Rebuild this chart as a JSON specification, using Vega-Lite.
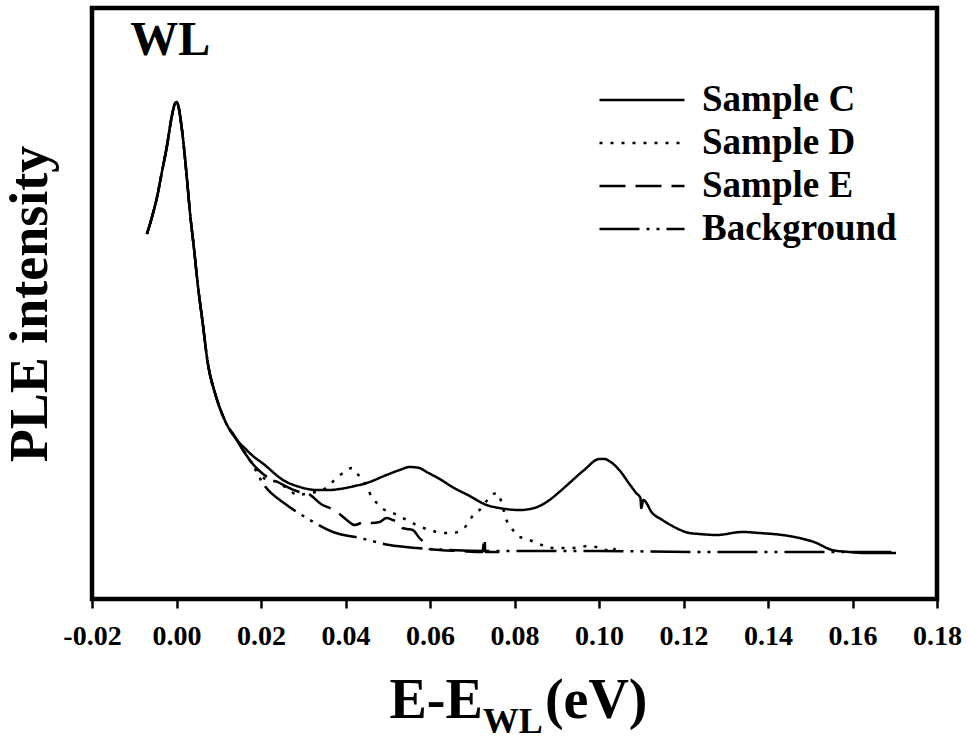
{
  "$schema": "https://vega.github.io/schema/vega-lite/v6.json",
  "width": 845,
  "height": 591,
  "autosize": {"type": "none"},
  "padding": {"left": 92, "top": 8, "right": 31, "bottom": 141},
  "background": "white",
  "config": {"view": {"stroke": "black", "strokeWidth": 4.5}, "font": "Liberation Serif"},
  "datasets": {
    "curves": [
      {"s": "Sample C", "E": -0.0070, "I": 365}, {"s": "Sample C", "E": -0.0058, "I": 382}, {"s": "Sample C", "E": -0.0046, "I": 402}, {"s": "Sample C", "E": -0.0035, "I": 426}, {"s": "Sample C", "E": -0.0023, "I": 452}, {"s": "Sample C", "E": -0.0011, "I": 483}, {"s": "Sample C", "E": -0.0004, "I": 495}, {"s": "Sample C", "E": 0.0000, "I": 497}, {"s": "Sample C", "E": 0.0003, "I": 495}, {"s": "Sample C", "E": 0.0013, "I": 469}, {"s": "Sample C", "E": 0.0025, "I": 419}, {"s": "Sample C", "E": 0.0032, "I": 386}, {"s": "Sample C", "E": 0.0041, "I": 352}, {"s": "Sample C", "E": 0.0051, "I": 312}, {"s": "Sample C", "E": 0.0062, "I": 276}, {"s": "Sample C", "E": 0.0074, "I": 236}, {"s": "Sample C", "E": 0.0091, "I": 206}, {"s": "Sample C", "E": 0.0114, "I": 179}, {"s": "Sample C", "E": 0.0143, "I": 159},
      {"s": "Sample C", "E": 0.0166, "I": 149}, {"s": "Sample C", "E": 0.0173, "I": 146}, {"s": "Sample C", "E": 0.0209, "I": 134}, {"s": "Sample C", "E": 0.0252, "I": 119}, {"s": "Sample C", "E": 0.0292, "I": 112}, {"s": "Sample C", "E": 0.0332, "I": 109}, {"s": "Sample C", "E": 0.0363, "I": 109}, {"s": "Sample C", "E": 0.0386, "I": 110}, {"s": "Sample C", "E": 0.0422, "I": 113}, {"s": "Sample C", "E": 0.0450, "I": 116}, {"s": "Sample C", "E": 0.0497, "I": 124}, {"s": "Sample C", "E": 0.0528, "I": 129}, {"s": "Sample C", "E": 0.0552, "I": 132}, {"s": "Sample C", "E": 0.0575, "I": 131}, {"s": "Sample C", "E": 0.0592, "I": 127}, {"s": "Sample C", "E": 0.0623, "I": 120}, {"s": "Sample C", "E": 0.0653, "I": 112}, {"s": "Sample C", "E": 0.0694, "I": 103}, {"s": "Sample C", "E": 0.0734, "I": 94}, {"s": "Sample C", "E": 0.0764, "I": 91}, {"s": "Sample C", "E": 0.0812, "I": 89}, {"s": "Sample C", "E": 0.0847, "I": 91}, {"s": "Sample C", "E": 0.0876, "I": 97}, {"s": "Sample C", "E": 0.0906, "I": 107}, {"s": "Sample C", "E": 0.0930, "I": 116}, {"s": "Sample C", "E": 0.0965, "I": 129}, {"s": "Sample C", "E": 0.1001, "I": 140}, {"s": "Sample C", "E": 0.1013, "I": 140}, {"s": "Sample C", "E": 0.1024, "I": 138}, {"s": "Sample C", "E": 0.1048, "I": 129}, {"s": "Sample C", "E": 0.1072, "I": 115}, {"s": "Sample C", "E": 0.1088, "I": 106}, {"s": "Sample C", "E": 0.1098, "I": 101}, {"s": "Sample C", "E": 0.1100, "I": 91}, {"s": "Sample C", "E": 0.1105, "I": 99}, {"s": "Sample C", "E": 0.1126, "I": 86}, {"s": "Sample C", "E": 0.1150, "I": 79}, {"s": "Sample C", "E": 0.1178, "I": 72}, {"s": "Sample C", "E": 0.1214, "I": 66}, {"s": "Sample C", "E": 0.1238, "I": 65}, {"s": "Sample C", "E": 0.1278, "I": 64}, {"s": "Sample C", "E": 0.1339, "I": 67}, {"s": "Sample C", "E": 0.1379, "I": 66}, {"s": "Sample C", "E": 0.1434, "I": 64}, {"s": "Sample C", "E": 0.1474, "I": 61}, {"s": "Sample C", "E": 0.1509, "I": 57}, {"s": "Sample C", "E": 0.1552, "I": 49}, {"s": "Sample C", "E": 0.1592, "I": 47}, {"s": "Sample C", "E": 0.1632, "I": 46}, {"s": "Sample C", "E": 0.1663, "I": 46}, {"s": "Sample C", "E": 0.1703, "I": 46},

      {"s": "Sample D", "E": -0.0070, "I": 365}, {"s": "Sample D", "E": -0.0058, "I": 382}, {"s": "Sample D", "E": -0.0046, "I": 402}, {"s": "Sample D", "E": -0.0035, "I": 426}, {"s": "Sample D", "E": -0.0023, "I": 452}, {"s": "Sample D", "E": -0.0011, "I": 483}, {"s": "Sample D", "E": -0.0004, "I": 495}, {"s": "Sample D", "E": 0.0000, "I": 497}, {"s": "Sample D", "E": 0.0003, "I": 495}, {"s": "Sample D", "E": 0.0013, "I": 469}, {"s": "Sample D", "E": 0.0025, "I": 419}, {"s": "Sample D", "E": 0.0032, "I": 386}, {"s": "Sample D", "E": 0.0041, "I": 352}, {"s": "Sample D", "E": 0.0051, "I": 312}, {"s": "Sample D", "E": 0.0062, "I": 276}, {"s": "Sample D", "E": 0.0074, "I": 236}, {"s": "Sample D", "E": 0.0091, "I": 206}, {"s": "Sample D", "E": 0.0114, "I": 179}, {"s": "Sample D", "E": 0.0143, "I": 159},
      {"s": "Sample D", "E": 0.0157, "I": 150}, {"s": "Sample D", "E": 0.0173, "I": 139}, {"s": "Sample D", "E": 0.0190, "I": 131}, {"s": "Sample D", "E": 0.0202, "I": 122}, {"s": "Sample D", "E": 0.0237, "I": 117}, {"s": "Sample D", "E": 0.0268, "I": 109}, {"s": "Sample D", "E": 0.0285, "I": 104}, {"s": "Sample D", "E": 0.0315, "I": 106}, {"s": "Sample D", "E": 0.0346, "I": 109}, {"s": "Sample D", "E": 0.0367, "I": 116}, {"s": "Sample D", "E": 0.0381, "I": 122}, {"s": "Sample D", "E": 0.0398, "I": 127}, {"s": "Sample D", "E": 0.0415, "I": 131}, {"s": "Sample D", "E": 0.0426, "I": 126}, {"s": "Sample D", "E": 0.0441, "I": 119}, {"s": "Sample D", "E": 0.0452, "I": 111}, {"s": "Sample D", "E": 0.0462, "I": 102}, {"s": "Sample D", "E": 0.0474, "I": 96}, {"s": "Sample D", "E": 0.0486, "I": 91}, {"s": "Sample D", "E": 0.0512, "I": 86}, {"s": "Sample D", "E": 0.0545, "I": 79}, {"s": "Sample D", "E": 0.0568, "I": 74}, {"s": "Sample D", "E": 0.0599, "I": 69}, {"s": "Sample D", "E": 0.0635, "I": 66}, {"s": "Sample D", "E": 0.0653, "I": 66}, {"s": "Sample D", "E": 0.0675, "I": 69}, {"s": "Sample D", "E": 0.0687, "I": 74}, {"s": "Sample D", "E": 0.0699, "I": 82}, {"s": "Sample D", "E": 0.0713, "I": 87}, {"s": "Sample D", "E": 0.0734, "I": 98}, {"s": "Sample D", "E": 0.0746, "I": 104}, {"s": "Sample D", "E": 0.0760, "I": 106}, {"s": "Sample D", "E": 0.0769, "I": 97}, {"s": "Sample D", "E": 0.0781, "I": 79}, {"s": "Sample D", "E": 0.0793, "I": 71}, {"s": "Sample D", "E": 0.0805, "I": 64}, {"s": "Sample D", "E": 0.0819, "I": 61}, {"s": "Sample D", "E": 0.0835, "I": 59}, {"s": "Sample D", "E": 0.0854, "I": 56}, {"s": "Sample D", "E": 0.0876, "I": 52}, {"s": "Sample D", "E": 0.0890, "I": 51}, {"s": "Sample D", "E": 0.0913, "I": 51}, {"s": "Sample D", "E": 0.0935, "I": 51}, {"s": "Sample D", "E": 0.0954, "I": 52}, {"s": "Sample D", "E": 0.0973, "I": 53}, {"s": "Sample D", "E": 0.0994, "I": 52}, {"s": "Sample D", "E": 0.1013, "I": 50}, {"s": "Sample D", "E": 0.1029, "I": 46}, {"s": "Sample D", "E": 0.1041, "I": 54},

      {"s": "Sample E", "E": -0.0070, "I": 365}, {"s": "Sample E", "E": -0.0058, "I": 382}, {"s": "Sample E", "E": -0.0046, "I": 402}, {"s": "Sample E", "E": -0.0035, "I": 426}, {"s": "Sample E", "E": -0.0023, "I": 452}, {"s": "Sample E", "E": -0.0011, "I": 483}, {"s": "Sample E", "E": -0.0004, "I": 495}, {"s": "Sample E", "E": 0.0000, "I": 497}, {"s": "Sample E", "E": 0.0003, "I": 495}, {"s": "Sample E", "E": 0.0013, "I": 469}, {"s": "Sample E", "E": 0.0025, "I": 419}, {"s": "Sample E", "E": 0.0032, "I": 386}, {"s": "Sample E", "E": 0.0041, "I": 352}, {"s": "Sample E", "E": 0.0051, "I": 312}, {"s": "Sample E", "E": 0.0062, "I": 276}, {"s": "Sample E", "E": 0.0074, "I": 236}, {"s": "Sample E", "E": 0.0091, "I": 206}, {"s": "Sample E", "E": 0.0114, "I": 179}, {"s": "Sample E", "E": 0.0143, "I": 159},
      {"s": "Sample E", "E": 0.0157, "I": 149}, {"s": "Sample E", "E": 0.0173, "I": 139}, {"s": "Sample E", "E": 0.0202, "I": 126}, {"s": "Sample E", "E": 0.0244, "I": 116}, {"s": "Sample E", "E": 0.0292, "I": 107}, {"s": "Sample E", "E": 0.0308, "I": 106}, {"s": "Sample E", "E": 0.0346, "I": 94}, {"s": "Sample E", "E": 0.0363, "I": 91}, {"s": "Sample E", "E": 0.0386, "I": 85}, {"s": "Sample E", "E": 0.0403, "I": 79}, {"s": "Sample E", "E": 0.0422, "I": 74}, {"s": "Sample E", "E": 0.0445, "I": 77}, {"s": "Sample E", "E": 0.0462, "I": 76}, {"s": "Sample E", "E": 0.0481, "I": 77}, {"s": "Sample E", "E": 0.0497, "I": 81}, {"s": "Sample E", "E": 0.0512, "I": 79}, {"s": "Sample E", "E": 0.0528, "I": 76}, {"s": "Sample E", "E": 0.0535, "I": 71}, {"s": "Sample E", "E": 0.0545, "I": 70}, {"s": "Sample E", "E": 0.0559, "I": 69}, {"s": "Sample E", "E": 0.0575, "I": 61}, {"s": "Sample E", "E": 0.0592, "I": 54}, {"s": "Sample E", "E": 0.0599, "I": 50}, {"s": "Sample E", "E": 0.0623, "I": 49}, {"s": "Sample E", "E": 0.0670, "I": 48}, {"s": "Sample E", "E": 0.0724, "I": 47}, {"s": "Sample E", "E": 0.0729, "I": 61}, {"s": "Sample E", "E": 0.0731, "I": 47}, {"s": "Sample E", "E": 0.0764, "I": 47},

      {"s": "Background", "E": -0.0070, "I": 365}, {"s": "Background", "E": -0.0058, "I": 382}, {"s": "Background", "E": -0.0046, "I": 402}, {"s": "Background", "E": -0.0035, "I": 426}, {"s": "Background", "E": -0.0023, "I": 452}, {"s": "Background", "E": -0.0011, "I": 483}, {"s": "Background", "E": -0.0004, "I": 495}, {"s": "Background", "E": 0.0000, "I": 497}, {"s": "Background", "E": 0.0003, "I": 495}, {"s": "Background", "E": 0.0013, "I": 469}, {"s": "Background", "E": 0.0025, "I": 419}, {"s": "Background", "E": 0.0032, "I": 386}, {"s": "Background", "E": 0.0041, "I": 352}, {"s": "Background", "E": 0.0051, "I": 312}, {"s": "Background", "E": 0.0062, "I": 276}, {"s": "Background", "E": 0.0074, "I": 236}, {"s": "Background", "E": 0.0091, "I": 206}, {"s": "Background", "E": 0.0114, "I": 179}, {"s": "Background", "E": 0.0143, "I": 159},
      {"s": "Background", "E": 0.0157, "I": 149}, {"s": "Background", "E": 0.0178, "I": 136}, {"s": "Background", "E": 0.0204, "I": 116}, {"s": "Background", "E": 0.0261, "I": 94}, {"s": "Background", "E": 0.0308, "I": 81}, {"s": "Background", "E": 0.0370, "I": 67}, {"s": "Background", "E": 0.0434, "I": 61}, {"s": "Background", "E": 0.0504, "I": 54}, {"s": "Background", "E": 0.0568, "I": 51}, {"s": "Background", "E": 0.0646, "I": 49}, {"s": "Background", "E": 0.0764, "I": 48}, {"s": "Background", "E": 0.1001, "I": 48}, {"s": "Background", "E": 0.1238, "I": 47}, {"s": "Background", "E": 0.1474, "I": 47}, {"s": "Background", "E": 0.1703, "I": 47}
    ]
  },
  "layer": [
    {
      "data": {"name": "curves"},
      "mark": {"type": "line", "color": "black", "strokeWidth": 2.5, "strokeCap": "butt", "interpolate": "monotone"},
      "encoding": {
        "x": {
          "field": "E", "type": "quantitative",
          "scale": {"domain": [-0.02, 0.18], "nice": false, "zero": false},
          "axis": {
            "values": [-0.02, 0, 0.02, 0.04, 0.06, 0.08, 0.1, 0.12, 0.14, 0.16, 0.18],
            "labelExpr": "datum.value < 0 ? '-' + format(-datum.value, '.2f') : format(datum.value, '.2f')",
            "title": null, "grid": false, "domain": false,
            "tickSize": 9, "tickWidth": 2.5, "tickColor": "black",
            "labelFont": "Liberation Serif", "labelFontWeight": "bold", "labelFontSize": 28, "labelColor": "black",
            "labelPadding": 14, "labelFlush": false, "labelOverlap": false
          }
        },
        "y": {
          "field": "I", "type": "quantitative",
          "scale": {"domain": [0, 591], "nice": false},
          "axis": {
            "title": "PLE intensity", "labels": false, "ticks": false, "domain": false, "grid": false,
            "titleFont": "Liberation Serif", "titleFontWeight": "bold", "titleFontSize": 54, "titleColor": "black",
            "titlePadding": 35
          }
        },
        "strokeDash": {
          "field": "s", "type": "nominal",
          "scale": {"domain": ["Sample C", "Sample D", "Sample E", "Background"], "range": [[1, 0], [3, 8], [26, 10], [40, 7, 3, 7, 3, 7]]},
          "legend": {
            "orient": "none", "legendX": 506, "legendY": 75, "title": null, "padding": 0,
            "symbolType": "stroke", "symbolSize": 7225, "symbolStrokeWidth": 2.5, "symbolStrokeColor": "black",
            "labelFont": "Liberation Serif", "labelFontWeight": "bold", "labelFontSize": 37, "labelColor": "black",
            "labelOffset": 16, "labelLimit": 0, "clipHeight": 34, "rowPadding": 6
          }
        }
      }
    },
    {
      "data": {"values": [{"label": "WL", "E": -0.0015, "I": 544}]},
      "mark": {"type": "text", "font": "Liberation Serif", "fontWeight": "bold", "fontSize": 48, "align": "center", "baseline": "alphabetic", "color": "black"},
      "encoding": {"x": {"field": "E", "type": "quantitative"}, "y": {"field": "I", "type": "quantitative"}, "text": {"field": "label"}}
    },
    {
      "data": {"values": [{"label": "E-E", "E": 0.0725, "I": 0}]},
      "mark": {"type": "text", "font": "Liberation Serif", "fontWeight": "bold", "fontSize": 56, "align": "right", "baseline": "alphabetic", "dy": 119, "color": "black"},
      "encoding": {"x": {"field": "E", "type": "quantitative"}, "y": {"field": "I", "type": "quantitative"}, "text": {"field": "label"}}
    },
    {
      "data": {"values": [{"label": "WL", "E": 0.0725, "I": 0}]},
      "mark": {"type": "text", "font": "Liberation Serif", "fontWeight": "bold", "fontSize": 36, "align": "left", "baseline": "alphabetic", "dy": 134, "color": "black"},
      "encoding": {"x": {"field": "E", "type": "quantitative"}, "y": {"field": "I", "type": "quantitative"}, "text": {"field": "label"}}
    },
    {
      "data": {"values": [{"label": "(eV)", "E": 0.0872, "I": 0}]},
      "mark": {"type": "text", "font": "Liberation Serif", "fontWeight": "bold", "fontSize": 56, "align": "left", "baseline": "alphabetic", "dy": 119, "color": "black"},
      "encoding": {"x": {"field": "E", "type": "quantitative"}, "y": {"field": "I", "type": "quantitative"}, "text": {"field": "label"}}
    }
  ]
}
